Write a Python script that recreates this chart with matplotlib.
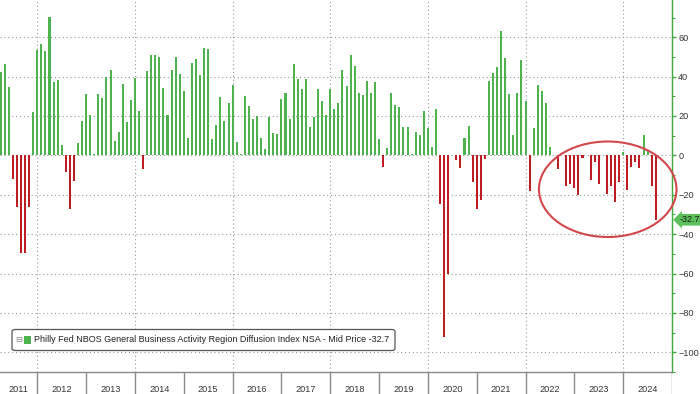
import matplotlib
matplotlib.use('Agg')
import matplotlib.pyplot as plt
from matplotlib.patches import Ellipse, FancyBboxPatch, Rectangle
import numpy as np

FONT = ['Liberation Sans', 'DejaVu Sans']
plt.rcParams['font.family'] = FONT

# ---- data (monthly, Mar 2011 .. Aug 2024) ----
v2011 = [42.3, 46.5, 34.9, -11.8, -26.0, -49.5, -49.5, -26.0, 22.2, 53.7]  # Mar-Dec
v2012 = [56.6, 52.9, 70.5, 37.3, 38.1, 5.5, -8.4, -27.2, -12.9, 6.4, 17.6, 31.1]
v2013 = [20.5, 0.7, 31.1, 29.1, 40.0, 43.2, 7.1, 11.8, 36.4, 16.8, 28.0, 39.1]
v2014 = [22.3, -6.7, 42.8, 51.2, 51.2, 50.0, 34.4, 20.5, 43.2, 50.0, 41.5, 32.7]
v2015 = [8.7, 47.0, 49.0, 41.0, 54.6, 54.1, 8.4, 15.4, 29.4, 17.5, 26.4, 35.6]
v2016 = [6.7, 0.5, 30.2, 25.2, 18.5, 19.8, 8.7, 3.4, 19.3, 11.3, 10.9, 28.5]
v2017 = [31.9, 18.5, 46.5, 38.6, 33.9, 38.6, 14.6, 19.3, 33.9, 27.7, 20.5, 33.9]
v2018 = [23.5, 26.4, 43.3, 35.3, 51.2, 45.3, 31.9, 30.6, 37.8, 31.9, 37.4, 8.4]
v2019 = [-5.9, 3.7, 31.6, 25.5, 24.7, 14.6, 14.6, 0.5, 11.8, 10.6, 22.7, 13.8]
v2020 = [4.5, 23.8, -24.9, -92.4, -60.1, 0.0, -2.5, -6.3, 8.7, 14.8, -13.4, -27.2]
v2021 = [-22.7, -1.8, 37.6, 41.8, 44.8, 63.3, 49.4, 31.0, 10.6, 31.7, 48.3, 27.7]
v2022 = [-18.3, 13.8, 35.8, 32.7, 26.4, 4.5, 0.0, -7.1, 0.0, -15.8, -14.3, -16.4]
v2023 = [-20.2, -1.3, 0.0, -12.6, -3.4, -14.3, 0.0, -19.8, -15.6, -23.8, -13.4, 1.7]
v2024 = [-17.6, -5.7, -3.4, -6.4, 10.4, 2.5, -15.4, -32.7]
year_labels = ['2011', '2012', '2013', '2014', '2015', '2016', '2017',
               '2018', '2019', '2020', '2021', '2022', '2023', '2024']
series_name = 'Philly Fed NBOS General Business Activity Region Diffusion Index NSA - Mid Price'
last_value = -32.7

values = np.array(v2011 + v2012 + v2013 + v2014 + v2015 + v2016 + v2017 +
                  v2018 + v2019 + v2020 + v2021 + v2022 + v2023 + v2024)
# month-end positions, months counted from Jan 1 2011 (Mar 2011 end -> 3)
x = np.arange(len(values)) + 3

GREEN = '#4DB34F'
RED = '#BE1E22'
GRID = '#9a9a9a'
TXT = '#333333'

W, H = 700, 394
fig = plt.figure(figsize=(W / 100, H / 100), dpi=100)
ax = fig.add_axes([0, 22 / H, 672 / W, 372 / H])

XL = (2.83, 168)
YL = (-108.5, 78.9)
ax.set_xlim(*XL)
ax.set_ylim(*YL)

colors = [GREEN if v >= 0 else RED for v in values]
ax.bar(x, values, width=0.5, color=colors, edgecolor='none', zorder=3)

# grid
for yv in range(-100, 61, 20):
    ax.axhline(yv, color=GRID, lw=0.8, ls=(0, (1, 2.5)), zorder=1)
for xv in range(12, 168, 24):
    ax.axvline(xv, color=GRID, lw=0.8, ls=(0, (1, 2.5)), zorder=1)

# spines / ticks
for s in ['left', 'top']:
    ax.spines[s].set_visible(False)
ax.spines['right'].set_color('#3FA83F')
ax.spines['right'].set_linewidth(1.0)
ax.spines['bottom'].set_color('#8a8a8a')
ax.spines['bottom'].set_linewidth(1.0)
ax.set_xticks([])
ax.yaxis.tick_right()
ax.set_yticks(range(-100, 61, 20))
ax.set_yticks(range(-110, 80, 10), minor=True)
ax.tick_params(axis='y', which='major', length=3, width=1, color='#3FA83F',
               labelsize=6.6, labelcolor=TXT, pad=1.5)
ax.tick_params(axis='y', which='minor', length=2, width=0.8, color='#3FA83F')
ax.text(1.011, 80, '80', transform=ax.get_yaxis_transform(), fontsize=6.6,
        color=TXT, va='center', ha='left', clip_on=False)

# last value tag
ax.text(1.011, last_value, f'{last_value:.1f}', transform=ax.get_yaxis_transform(),
        fontsize=6.4, color='#1a1a1a', va='center', ha='left', clip_on=False,
        bbox=dict(boxstyle='larrow,pad=0.15', fc='#5CC05C', ec='none'), zorder=6)

# highlight ellipse
ax.add_patch(Ellipse((152.2, -17.2), 33.8, 48.5, fill=False, ec='#D2474B',
                     lw=1.5, clip_on=False, zorder=5))

# legend box (manual)
lx0, lx1, ly0, ly1 = 12, 395, 329.5, 350.5
fig.patches.append(FancyBboxPatch((lx0 / W, 1 - ly1 / H), (lx1 - lx0) / W, (ly1 - ly0) / H,
                                  boxstyle='round,pad=0,rounding_size=0.005',
                                  transform=fig.transFigure, fc='white', ec='#555555',
                                  lw=0.9, zorder=10))
fig.text(19 / W, 1 - 340 / H, '\u229f', fontsize=6, color='#888888', va='center',
         ha='center', family=['DejaVu Sans'], zorder=11)
fig.patches.append(Rectangle((24 / W, 1 - 344 / H), 7 / W, 8 / H, transform=fig.transFigure,
                             fc=GREEN, ec='none', zorder=11))
fig.text(34 / W, 1 - 340 / H, f'{series_name} {last_value:.1f}', fontsize=6.5,
         color='#222222', va='center', ha='left', zorder=11)

# year band
bax = fig.add_axes([0, 0, 672 / W, 22 / H])
bax.set_xlim(*XL)
bax.set_ylim(0, 1)
bax.axis('off')
bounds = np.arange(0, 14 * 12 + 1, 12)
bax.vlines(bounds[1:], 0, 1, color='#8a8a8a', lw=1.0)
for i, lab in enumerate(year_labels):
    a = max(bounds[i], XL[0])
    b = min(bounds[i + 1], XL[1])
    bax.text((a + b) / 2, 0.2, lab, fontsize=6.6, color=TXT, ha='center', va='center')

fig.savefig('out.png', dpi=100)
